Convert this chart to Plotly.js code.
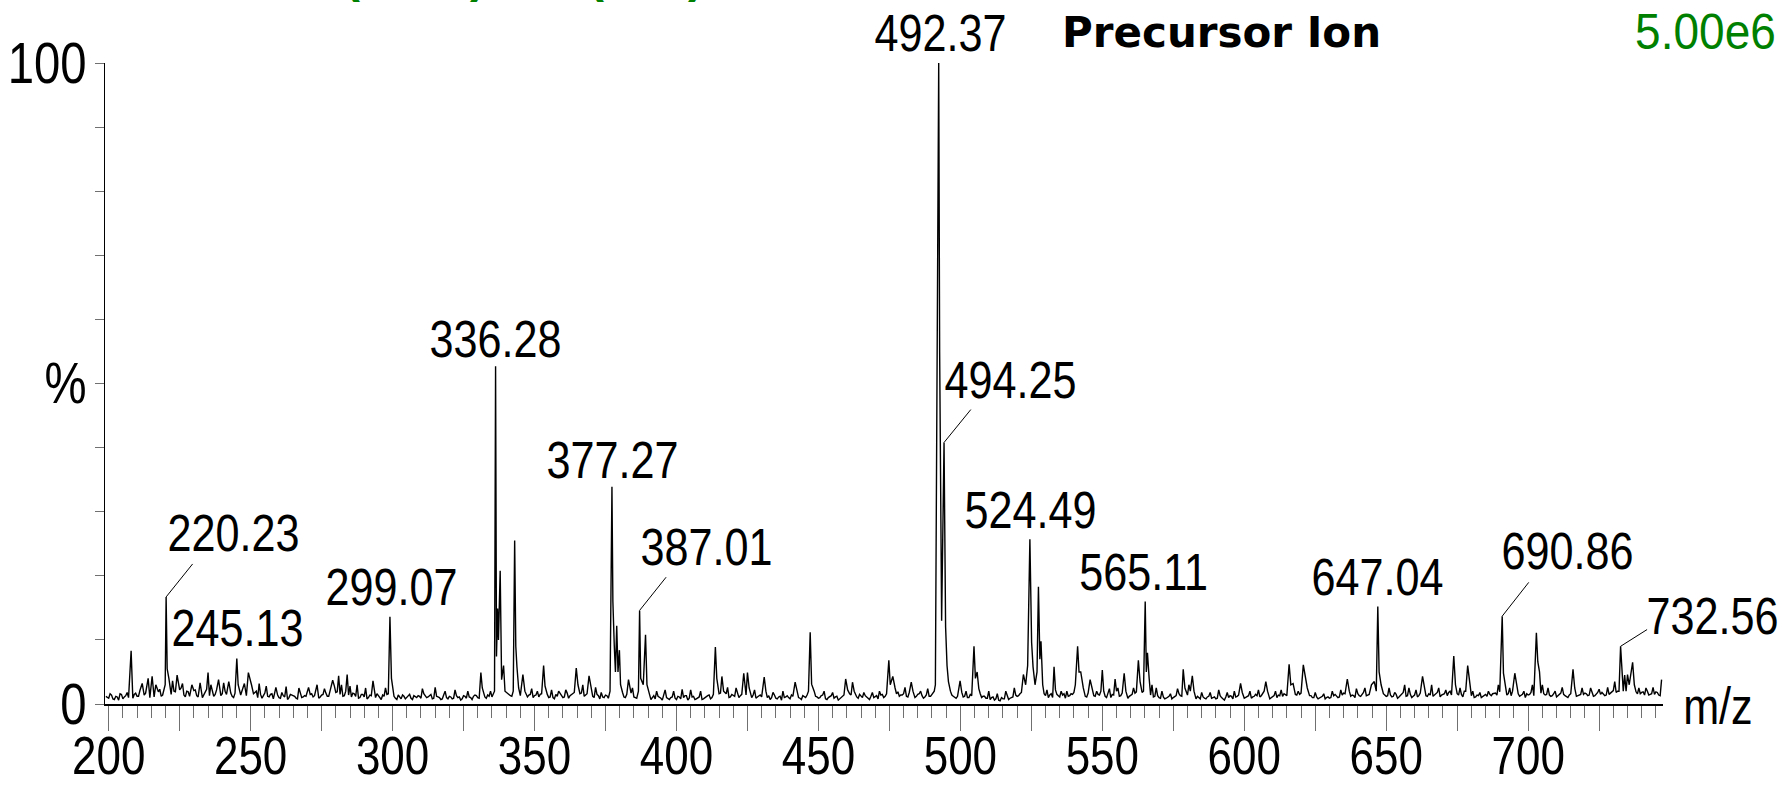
<!DOCTYPE html>
<html>
<head>
<meta charset="utf-8">
<script src="https://cdn.plot.ly/plotly-3.0.1.min.js"></script>
<style>html,body{margin:0;padding:0;background:#fff;}#chart{width:1784px;height:785px;}</style>
</head>
<body>
<div id="chart"></div>
<script>
// ---- DATA ----
// baseline noise, relative intensity (%), read at every whole m/z from 199
const noiseStartMz = 199;
const noisePct = [
1.2,
0.9,1.4,0.7,1.1,1.6,0.8,1.3,1.0,1.9,1.5,
1.2,2.1,1.0,1.7,1.3,2.0,1.1,1.6,2.3,1.4,
1.8,2.4,1.5,2.0,1.2,2.2,1.6,1.1,1.9,1.4,
2.1,1.3,1.7,1.0,2.0,1.5,1.8,1.2,2.2,1.1,
1.6,2.0,1.3,1.7,1.0,1.9,1.4,2.1,1.2,1.8,
1.1,1.6,2.0,1.3,0.9,1.7,1.2,1.5,0.8,1.4,
1.0,1.8,1.1,0.7,1.5,1.2,0.9,1.6,1.0,1.3,
0.8,1.5,1.1,1.7,0.9,1.4,1.0,1.2,2.0,1.5,
1.8,1.1,2.2,1.3,1.6,1.0,1.7,1.2,0.9,1.5,
1.1,0.8,1.4,1.6,1.0,1.3,0.7,1.2,1.5,1.8,
1.3,0.9,1.4,0.8,1.2,1.0,1.5,0.7,1.1,1.3,
0.9,1.6,1.0,1.3,0.8,1.5,1.1,0.7,1.4,1.0,
1.2,0.8,1.5,1.0,0.6,1.3,0.9,1.1,0.7,1.4,
1.0,1.6,1.3,0.9,1.2,1.1,2.0,2.0,2.0,2.0,
1.8,1.4,1.2,2.0,1.9,1.3,1.6,1.0,1.4,1.1,
1.3,0.9,1.5,1.2,1.7,1.0,1.4,0.8,1.2,1.6,
1.0,1.3,0.9,1.5,1.8,1.2,1.6,1.1,1.4,1.9,
1.3,1.0,1.5,0.8,1.1,1.4,0.9,2.0,2.0,2.0,
1.6,1.2,1.0,1.4,1.7,1.1,0.9,2.0,1.8,2.0,
1.0,0.7,1.3,0.9,1.1,0.6,1.2,0.8,1.0,1.4,
0.7,1.1,0.9,1.3,0.6,1.0,1.2,0.8,1.1,0.7,
1.0,1.3,0.8,1.5,2.0,1.6,1.2,1.9,1.4,1.1,
1.3,1.7,1.0,1.5,1.9,1.6,1.2,1.4,0.9,1.3,
1.1,1.6,1.0,0.7,1.2,0.9,1.1,0.6,1.0,1.3,
0.8,1.2,1.5,1.0,0.7,1.1,1.4,2.0,1.6,1.2,
0.9,1.3,1.0,0.7,1.2,0.8,1.1,0.6,1.0,1.4,
1.2,1.6,1.1,1.5,0.9,1.3,0.8,1.1,0.7,1.0,
1.2,0.8,1.4,1.0,1.6,2.0,1.8,1.3,1.9,1.4,
1.6,1.2,1.8,1.3,1.0,1.5,1.1,0.9,1.4,1.2,
1.5,1.3,2.0,2.0,2.0,2.0,2.0,1.4,1.0,1.2,
0.8,1.1,0.7,1.0,1.3,2.0,2.0,1.6,1.2,0.9,
0.7,1.0,0.6,0.9,0.5,0.8,1.1,0.7,1.0,1.4,
1.2,1.6,2.0,2.0,2.0,2.0,2.0,2.0,2.0,2.0,
1.3,1.0,1.6,2.0,1.5,1.1,1.4,0.9,1.2,1.6,
1.8,2.0,2.0,1.5,1.2,1.7,2.0,1.3,1.0,1.4,
2.0,1.2,1.6,1.0,1.4,2.0,1.2,1.7,1.1,0.9,
1.3,1.6,1.9,2.0,1.8,2.0,2.0,1.4,1.1,1.5,
1.0,1.2,0.8,1.1,0.7,1.0,1.3,1.6,1.2,2.0,
1.4,2.0,1.1,0.8,1.0,0.6,0.9,1.1,0.7,1.0,
0.8,1.2,1.0,0.6,0.9,1.3,0.8,1.1,1.4,2.0,
0.9,1.2,0.8,1.1,1.5,1.0,1.3,2.0,1.1,0.8,
1.2,0.9,1.4,1.1,1.6,1.3,2.0,2.0,1.5,1.1,
1.7,2.0,2.0,1.3,1.0,1.2,0.8,1.1,0.7,1.0,
0.9,1.2,1.5,1.0,1.3,1.7,1.1,2.0,1.4,1.0,
1.6,1.2,1.8,1.3,1.5,1.9,2.0,2.0,2.0,1.6,
1.2,1.5,1.1,1.7,0.9,1.3,1.8,1.2,1.6,1.0,
1.4,1.1,1.7,2.0,1.3,1.6,1.0,1.4,1.8,1.1,
1.5,1.2,1.8,1.4,2.0,1.6,1.3,1.1,2.0,2.0,
1.3,1.0,1.4,0.9,1.2,1.5,1.0,1.3,1.7,1.4,
1.9,2.0,2.0,1.6,1.3,2.0,1.7,1.2,1.5,1.0,
1.4,1.8,1.3,2.0,2.0,2.0,1.4,1.9,1.2,1.6,
1.1,1.5,1.9,1.3,1.0,1.6,1.8,1.2,1.5,1.1,
1.7,1.3,1.9,1.2,1.6,1.4,1.8,1.3,1.1,1.7,
2.1,1.8,2.0,2.0,2.0,2.0,2.0,2.0,1.9,1.5,
1.8,1.4,2.0,1.5,1.2,1.9,1.4,1.7
];
// baseline noise read at the half m/z values from 199.5
const noiseHalfStartMz = 199.5;
const noiseHalfPct = [
1.0,1.6,0.8,1.2,0.6,1.5,1.1,1.8,1.3,0.9,
1.7,1.2,2.2,1.4,1.8,1.0,2.4,1.5,1.9,1.2,
2.0,1.7,2.3,1.3,1.9,1.6,2.5,1.4,2.0,1.2,
1.6,2.2,1.1,1.9,1.4,2.3,1.3,2.0,1.5,1.8,
1.3,2.2,1.5,1.9,1.2,1.7,2.3,1.4,1.9,1.3,
1.7,1.2,1.8,1.0,1.5,1.3,1.9,1.1,1.6,1.2,
1.4,0.9,1.3,1.6,1.0,1.4,1.2,0.8,1.5,1.1,
1.2,1.0,1.6,1.3,1.8,1.1,1.5,1.7,1.2,2.1,
1.4,1.9,1.5,1.2,2.0,1.4,1.1,1.6,1.3,1.0,
1.5,1.2,1.0,1.3,1.1,1.6,1.0,1.4,1.1,1.6,
1.0,1.2,0.7,1.1,1.4,0.8,1.2,0.9,1.3,1.0,
1.2,0.8,1.3,1.1,1.5,0.9,1.2,1.0,0.8,1.3,
0.8,1.1,0.9,1.3,1.1,0.8,1.2,1.4,1.0,1.2,
1.3,0.9,1.5,1.1,1.4,2.0,2.0,2.0,2.0,2.0,
2.0,1.6,1.3,2.0,2.0,2.0,1.2,1.8,1.1,1.5,
1.0,1.4,1.1,1.6,1.3,1.5,1.1,1.0,1.5,1.2,
1.4,1.1,1.7,1.3,1.6,1.4,1.3,1.7,1.2,1.6,
1.5,1.2,1.1,1.3,1.6,1.0,1.3,2.0,2.0,2.0,
2.0,1.3,1.1,1.5,1.2,1.4,1.0,2.0,2.0,2.0,
2.0,1.2,1.0,0.8,1.2,0.9,1.3,1.0,0.7,1.1,
0.9,1.2,0.8,1.0,1.3,0.9,1.1,0.7,1.0,1.2,
0.8,1.1,1.4,1.0,2.0,1.4,1.7,1.3,1.6,1.0,
1.5,1.2,1.8,1.3,1.1,1.4,1.7,1.0,1.5,1.1,
1.4,1.2,0.9,1.3,1.0,1.4,0.8,1.2,0.9,1.1,
1.0,1.4,1.1,1.3,0.9,1.3,1.0,2.0,1.3,1.0,
1.1,1.0,1.4,0.8,1.0,1.3,0.9,1.2,0.8,1.1,
1.3,1.0,1.4,1.2,1.1,1.5,1.0,1.3,0.9,1.2,
1.0,1.3,1.1,1.5,1.2,1.8,1.5,1.1,1.6,1.2,
1.4,1.7,1.1,1.6,1.4,1.2,1.6,1.3,1.1,1.5,
1.2,1.7,2.0,2.0,2.0,2.0,2.0,1.6,1.2,0.9,
1.3,0.9,1.2,1.0,1.5,2.0,2.0,1.3,1.0,1.2,
0.9,0.7,1.1,0.8,0.6,1.0,0.8,1.2,0.9,1.1,
1.4,1.3,1.8,2.0,2.0,2.0,2.0,2.0,2.0,2.0,
1.6,1.2,1.4,1.0,2.0,1.3,1.0,1.6,1.1,1.3,
1.5,2.0,2.0,2.0,1.4,1.1,1.5,1.6,1.2,1.5,
2.0,1.4,1.0,1.3,1.5,1.6,1.4,1.3,1.5,1.0,
1.2,1.5,1.7,2.0,1.6,2.0,2.0,1.7,1.3,1.2,
1.3,0.9,1.1,0.9,1.2,0.8,1.1,1.4,1.3,2.0,
1.6,1.5,1.3,1.0,1.2,0.8,1.1,0.8,1.2,0.9,
1.1,0.9,1.3,0.8,1.1,1.0,1.2,0.9,1.2,1.6,
1.1,1.0,1.3,0.9,1.2,1.3,1.1,1.6,1.0,1.1,
1.0,1.3,1.0,1.3,1.2,1.4,2.0,1.5,1.3,1.4,
1.5,2.0,1.6,1.1,1.3,1.0,1.1,0.9,1.2,0.8,
1.1,1.0,1.3,1.2,1.1,1.4,1.6,1.3,1.2,1.3,
1.4,1.3,1.6,1.5,1.4,1.7,2.0,2.0,2.0,1.3,
1.4,1.3,1.4,1.2,1.5,1.1,1.6,1.4,1.3,1.5,
1.2,1.5,1.3,2.0,1.5,1.2,1.4,1.2,1.6,1.3,
1.4,1.6,1.3,2.0,1.4,1.7,1.4,1.5,2.0,1.5,
1.2,1.2,1.1,1.3,1.0,1.3,1.2,1.5,1.6,1.7,
2.0,2.0,1.8,1.4,1.5,2.0,1.4,1.6,1.3,1.2,
1.6,1.5,1.7,2.0,2.0,1.7,1.6,1.5,1.4,1.3,
1.4,1.3,1.7,1.5,1.2,1.4,2.0,1.4,1.3,1.5,
1.5,1.6,1.4,1.7,1.3,1.8,1.5,1.6,1.4,1.5,
1.9,2.0,2.0,2.0,2.0,2.0,2.0,2.0,1.7,1.6,
1.6,1.9,1.7,1.4,1.6,1.5,1.8,1.3
];

// peak / spike points (m/z, relative intensity %)
const peakMz = [
207.9,211.8,213.9,215.3,216.6,219.9,220.23,220.6,221.2,222.5,224.1,226.0,229.3,232.2,235.0,236.0,238.7,240.5,242.3,245.13,245.6,247.8,249.2,250.3,253.0,255.5,258.9,262.5,267.0,270.4,273.4,276.0,278.9,279.5,281.0,282.0,284.0,285.0,287.5,290.5,293.1,297.5,299.07,299.6,
310.5,315.0,318.5,322.0,326.5,331.1,331.6,335.9,336.28,336.6,337.0,337.3,337.9,338.4,339.1,339.6,342.5,343.0,343.4,343.8,344.4,345.9,346.6,349.0,351.0,353.2,353.7,356.0,358.5,361.0,364.7,365.3,367.0,369.2,370.0,371.5,373.5,
376.6,377.27,377.6,378.1,378.5,378.95,379.4,379.9,380.3,381.0,383.1,384.5,386.6,387.01,387.4,388.3,389.1,389.6,390.5,393.0,396.0,399.0,402.0,405.0,408.5,413.7,414.2,416.0,416.6,418.0,421.0,
423.7,425.0,425.6,427.5,430.9,431.5,434.0,437.5,441.8,442.5,447.1,447.6,448.5,452.0,455.0,459.6,460.3,462.0,462.6,466.0,469.0,471.5,474.8,475.3,476.2,477.0,480.5,482.7,483.3,486.0,488.5,490.8,
491.2,491.8,492.37,492.7,493.0,493.4,494.25,494.8,495.3,495.8,496.5,499.9,500.5,502.0,504.8,505.3,505.9,506.5,510.0,513.0,516.0,519.0,522.2,523.0,523.7,524.49,525.1,525.6,526.3,527.0,527.5,528.0,528.4,529.0,530.5,533.0,533.5,535.5,
537.5,540.5,541.3,541.8,542.4,543.3,545.7,546.4,548.0,550.0,550.5,552.5,554.5,555.5,557.7,558.3,561.0,562.7,563.3,565.11,565.5,565.9,566.5,567.5,569.0,571.0,574.0,576.5,578.5,579.1,580.5,581.7,582.3,585.0,588.0,591.0,594.0,596.5,598.7,599.3,
602.0,605.0,607.6,608.2,611.0,613.0,615.8,616.4,617.2,619.0,620.8,621.4,622.2,625.0,628.0,631.0,634.0,636.3,637.0,639.5,642.5,644.8,645.8,647.04,647.5,648.2,
651.0,653.0,656.5,658.0,660.5,662.8,663.4,666.0,668.5,671.0,673.8,674.4,676.0,678.7,679.3,680.5,683.0,686.0,689.5,690.86,691.3,692.0,693.5,695.3,696.0,698.5,701.5,702.9,703.4,704.0,705.0,707.0,709.5,712.0,715.8,716.4,719.0,722.0,725.0,728.0,730.5,732.56,733.0,734.0,735.0,735.6,736.8,737.4,739.0,741.5,744.0,747.0
];
const peakPct = [
8.3,3.2,4.0,4.3,3.0,3.0,16.7,5.5,4.0,3.6,4.5,3.2,3.0,3.3,4.9,3.0,3.8,3.3,3.5,7.1,3.0,3.2,4.9,3.0,3.2,2.8,2.6,2.7,2.5,2.6,3.0,2.4,3.7,2.8,4.4,3.0,4.6,2.8,3.0,2.5,3.6,2.5,13.6,4.0,
2.4,2.6,2.0,2.2,2.0,4.9,2.5,2.0,52.7,7.4,14.9,10.0,20.8,3.8,6.0,2.0,2.0,25.5,9.0,5.8,2.5,4.6,2.0,2.4,2.0,6.0,2.8,2.2,2.0,2.2,5.6,3.0,3.0,4.4,2.5,2.6,1.8,
2.0,33.9,16.0,9.0,5.0,12.2,5.0,8.4,3.0,1.8,3.8,2.5,2.0,14.6,4.0,3.0,10.8,3.0,1.5,2.0,2.2,2.0,2.3,2.2,2.0,8.9,4.0,4.3,2.0,2.6,2.5,
4.8,4.9,2.5,2.2,4.2,2.0,1.8,2.0,3.4,1.8,11.2,3.1,2.0,2.0,1.8,3.9,2.2,3.4,2.0,1.8,1.8,2.0,6.8,3.0,4.3,2.5,2.6,3.4,2.0,2.0,2.4,2.0,
3.0,60.0,100,55.0,35.0,13.0,40.8,12.0,6.0,3.5,2.0,3.6,1.8,2.0,9.0,4.0,5.0,2.4,2.0,1.6,2.0,2.5,4.6,3.0,6.0,25.7,9.6,5.8,3.0,5.0,18.3,7.0,9.8,3.0,2.2,5.8,2.2,2.0,
2.0,3.0,9.0,5.0,5.0,2.5,3.8,2.5,2.0,5.3,2.0,2.4,3.9,2.5,4.8,2.0,2.5,6.8,3.5,16.0,5.0,8.0,4.0,3.0,2.5,2.0,1.6,2.4,5.4,2.5,3.0,4.4,2.0,1.8,1.8,2.2,1.8,2.0,3.2,1.8,
2.0,2.2,3.5,2.0,2.0,2.2,6.2,3.0,3.2,2.0,6.1,4.3,2.5,1.8,1.6,2.0,2.2,3.9,2.0,2.4,2.5,3.0,3.5,15.2,5.0,3.0,
2.5,1.8,3.0,2.5,2.2,4.3,2.5,3.0,2.5,2.2,7.5,3.0,2.5,6.0,3.5,2.0,1.8,2.0,3.0,13.7,4.8,3.0,2.5,4.8,2.5,2.0,3.0,11.1,6.6,5.0,3.0,2.5,2.0,2.6,5.4,2.5,2.5,2.5,2.3,2.6,3.5,9.0,4.6,4.5,4.6,3.0,6.5,3.0,2.5,2.5,2.6,3.8
];

// labelled peaks
const labelText = ['220.23','245.13','299.07','336.28','377.27','387.01','492.37','494.25','524.49','565.11','647.04','690.86','732.56'];
const labelPct  = [16.7, 7.1, 13.6, 52.7, 33.9, 14.6, 100, 40.8, 25.7, 16.0, 15.2, 13.7, 9.0];

// axis tick labels
const xMajorTicks = [200,225,250,275,300,325,350,375,400,425,450,475,500,525,550,575,600,625,650,675,700,725];
const xTickText   = ['200','','250','','300','','350','','400','','450','','500','','550','','600','','650','','700',''];
const yTicks      = [0,10,20,30,40,50,60,70,80,90,100];
const yTickText   = ['0','','','','','%','','','','','100'];

// ---- STYLE / PLACEMENT (pixels) ----
const labelPlacement = [
  {dx:67, dy:-63.5, lead:[27.7,-34.5]},
  {dx:1,  dy:-30},
  {dx:2,  dy:-29.5},
  {dx:0,  dy:-27},
  {dx:1,  dy:-27},
  {dx:67, dy:-63, lead:[27.7,-34.7]},
  {dx:1.5,dy:-30},
  {dx:66, dy:-62.5, lead:[28,-34.4]},
  {dx:1,  dy:-29.5},
  {dx:-2, dy:-29.5},
  {dx:0,  dy:-30},
  {dx:65, dy:-65, lead:[27.7,-35.3]},
  {dx:92, dy:-30, lead:[28,-17.7]}
];

const SANS = '"Liberation Sans",Arial,sans-serif';
const NARROW_SCALE = 0.83;   // horizontal condensing of the narrow lettering
const GREEN_SCALE = 0.92;

// merge noise and peaks into one profile
const pts = [];
function addNoise(arr, start) {
  arr.forEach((v, i) => {
    const m = start + i;
    if (!peakMz.some(p => Math.abs(p - m) < 0.45)) pts.push([m, v]);
  });
}
addNoise(noisePct, noiseStartMz);
addNoise(noiseHalfPct, noiseHalfStartMz);
peakMz.forEach((m, i) => pts.push([m, peakPct[i]]));
pts.sort((a, b) => a[0] - b[0]);

const trace = {
  type: 'scatter', mode: 'lines',
  x: pts.map(p => p[0]), y: pts.map(p => p[1]),
  line: {color: '#000', width: 1.4},
  hoverinfo: 'skip', cliponaxis: false
};

const annotations = [];
labelText.forEach((t, i) => {
  const pl = labelPlacement[i];
  const mz = parseFloat(t);
  annotations.push({
    x: mz, y: labelPct[i], xref: 'x', yref: 'y', text: t, showarrow: false,
    xanchor: 'center', yanchor: 'middle',
    xshift: pl.dx, yshift: -pl.dy,
    font: {family: SANS, size: 52, color: '#000'}
  });
  if (pl.lead) {
    annotations.push({
      x: mz, y: labelPct[i], xref: 'x', yref: 'y', text: '', showarrow: true,
      arrowhead: 0, arrowwidth: 1, arrowcolor: '#000', standoff: 0,
      ax: pl.lead[0], ay: pl.lead[1]
    });
  }
});

// pixel -> paper helpers
const L = 105, R = 121, T = 63, B = 81, W = 1784, H = 785;
const pw = W - L - R, ph = H - T - B;
const px = x => (x - L) / pw;
const py = y => (H - B - y) / ph;

annotations.push({xref:'paper', yref:'paper', x: px(1221), y: py(32.5), text:'<b>Precursor Ion</b>', showarrow:false,
  xanchor:'center', yanchor:'middle', font:{family:'"DejaVu Sans",sans-serif', size:42, color:'#000'}});
annotations.push({xref:'paper', yref:'paper', x: px(1705), y: py(32.5), text:'5.00e6', showarrow:false,
  xanchor:'center', yanchor:'middle', font:{family:SANS, size:50, color:'#008000'}});
annotations.push({xref:'paper', yref:'paper', x: px(1718), y: py(706), text:'m/z', showarrow:false,
  xanchor:'center', yanchor:'middle', font:{family:SANS, size:52, color:'#000'}});
// green header text cut at the top edge
[[352,'('],[478,')'],[596,'('],[696,')']].forEach(g => {
  annotations.push({xref:'paper', yref:'paper', x: px(g[0]), y: py(-24), text:'<b>'+g[1]+'</b>', showarrow:false,
    xanchor:'center', yanchor:'middle', font:{family:SANS, size:48, color:'#008000'}});
});

const layout = {
  width: W, height: H,
  margin: {l: L, r: R, t: T, b: B, pad: 0},
  paper_bgcolor: '#fff', plot_bgcolor: '#fff',
  showlegend: false,
  xaxis: {
    range: [198.7, 747.5], autorange: false, automargin: false,
    showline: true, linecolor: '#000', linewidth: 1.5,
    showgrid: false, zeroline: false,
    ticks: 'outside', ticklen: 25, tickwidth: 1, tickcolor: '#707070',
    tickmode: 'array', tickvals: xMajorTicks, ticktext: xTickText,
    ticklabelstandoff: -20,
    tickfont: {family: SANS, size: 53, color: '#000'},
    minor: {dtick: 5, tick0: 200, ticks: 'outside', ticklen: 12, tickwidth: 1, tickcolor: '#707070', showgrid: false}
  },
  yaxis: {
    range: [0, 100], autorange: false, automargin: false,
    showline: true, linecolor: '#000', linewidth: 1,
    showgrid: false, zeroline: false,
    ticks: 'outside', ticklen: 9, tickwidth: 1, tickcolor: '#707070',
    tickmode: 'array', tickvals: yTicks, ticktext: yTickText,
    ticklabelstandoff: -3,
    tickfont: {family: SANS, size: 57, color: '#000'}
  },
  annotations: annotations
};

function condense(gd) {
  gd.querySelectorAll('svg text').forEach(t => {
    const s = t.textContent.trim();
    if (!s || s === 'Precursor Ion' || s === '(' || s === ')') return;
    const k = s === '5.00e6' ? GREEN_SCALE : NARROW_SCALE;
    const x = parseFloat(t.getAttribute('x')) || 0;
    const prev = t.getAttribute('transform') || '';
    t.setAttribute('transform', prev + ' translate(' + x + ',0) scale(' + k + ',1) translate(' + (-x) + ',0)');
  });
}

Plotly.newPlot('chart', [trace], layout, {staticPlot: true, displayModeBar: false}).then(condense);
</script>
</body>
</html>
